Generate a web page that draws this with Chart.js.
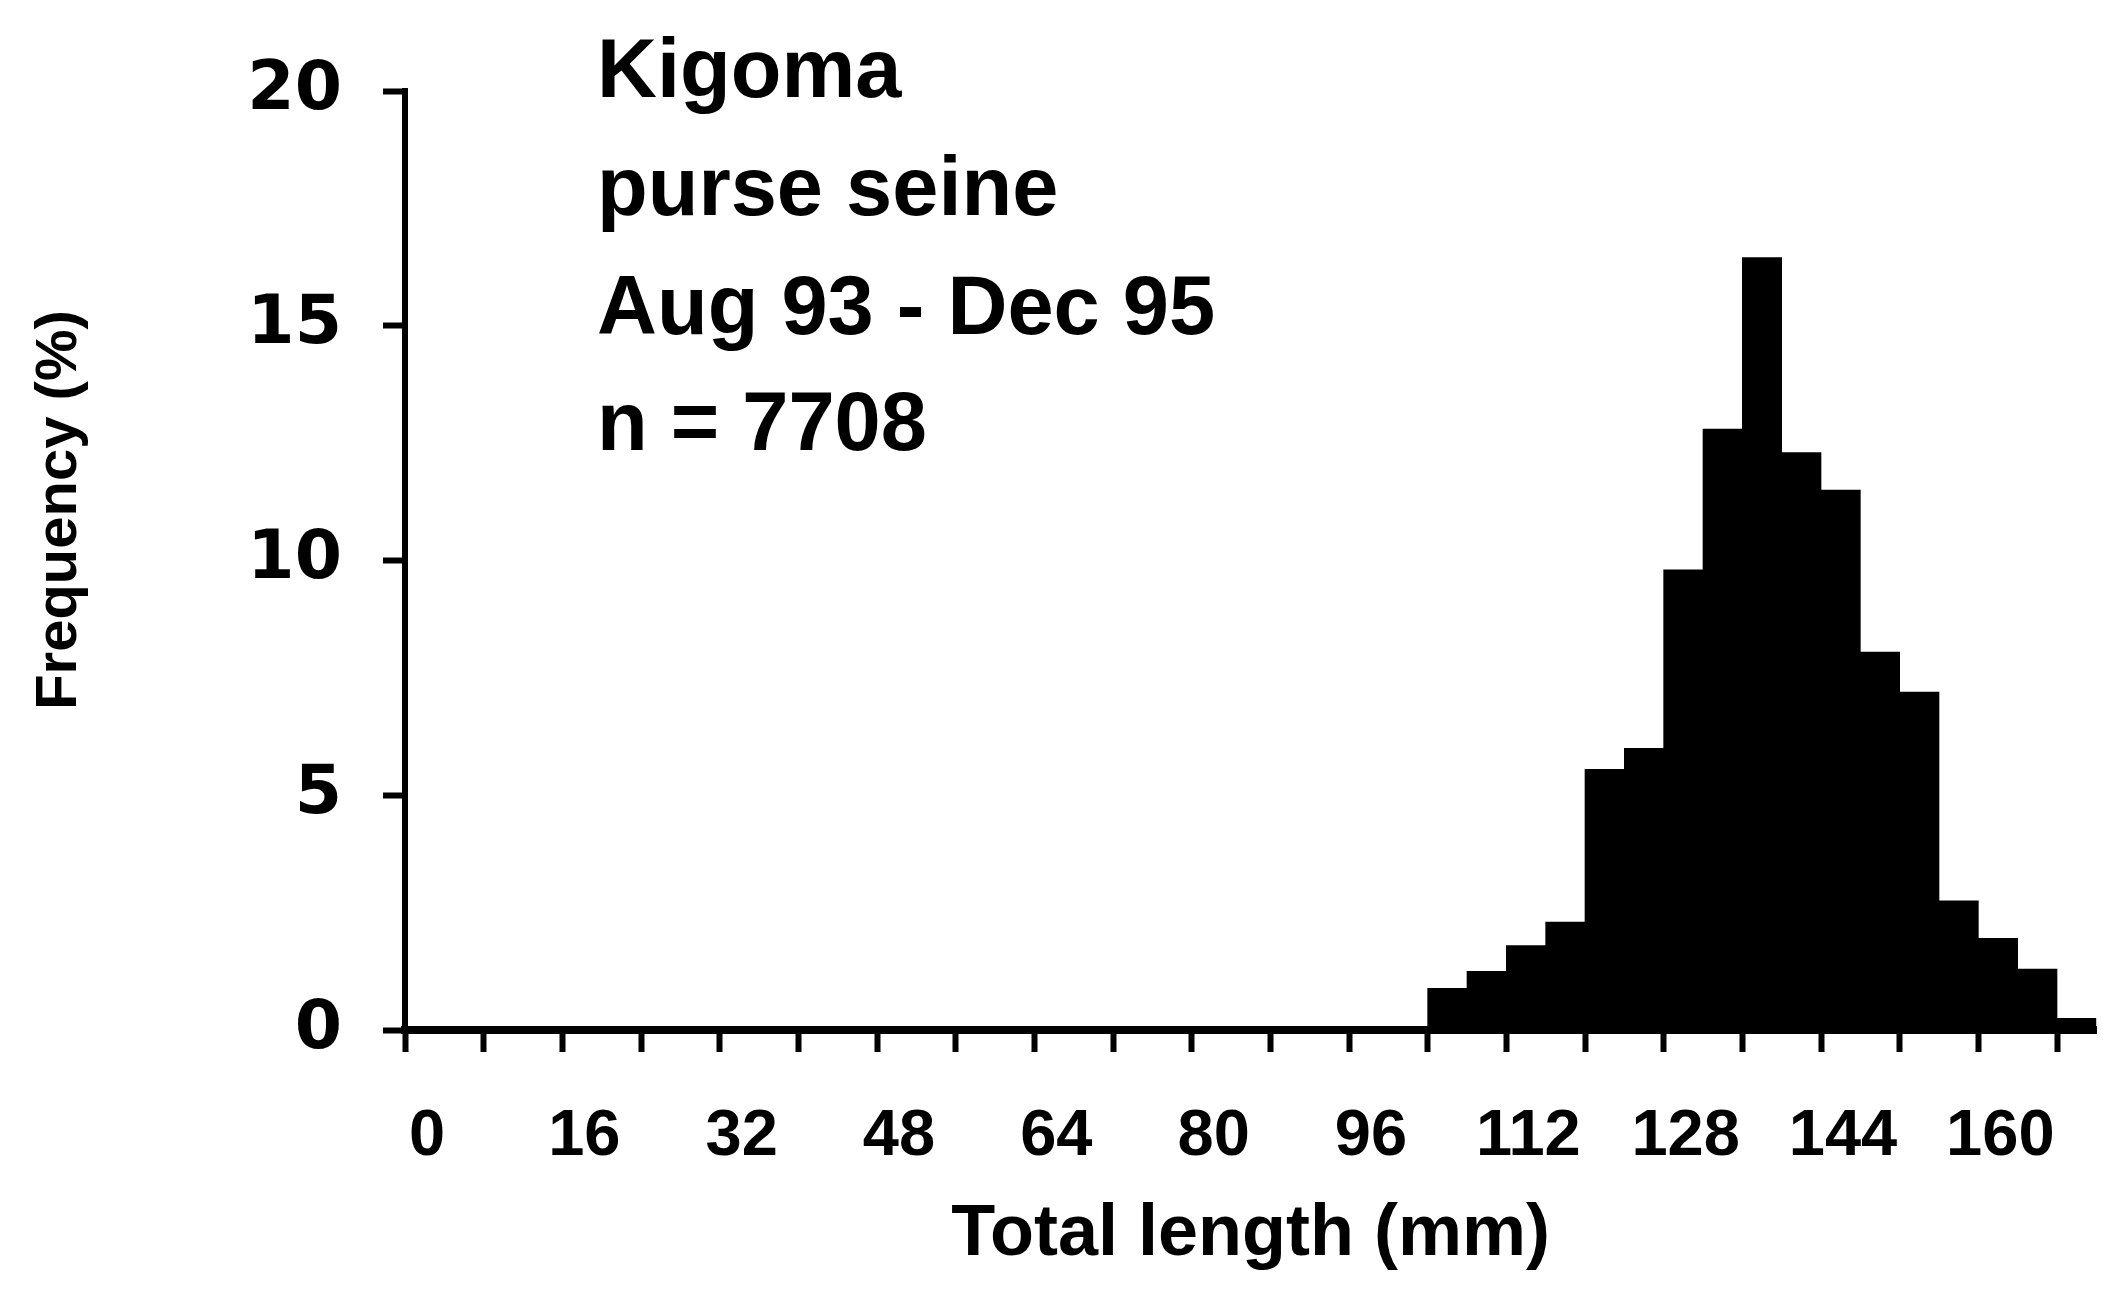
<!DOCTYPE html>
<html>
<head>
<meta charset="utf-8">
<script src="https://cdn.jsdelivr.net/npm/chart.js@4.4.1/dist/chart.umd.min.js"></script>
<style>
  html, body { margin: 0; padding: 0; background: #ffffff; }
  #wrap { width: 2103px; height: 1294px; }
</style>
</head>
<body>
<div id="wrap"><canvas id="c" width="2103" height="1294"></canvas></div>
<script>
// ---- Data ----
const binWidth = 4; // mm
const binStarts = [0,4,8,12,16,20,24,28,32,36,40,44,48,52,56,60,64,68,72,76,80,84,88,92,96,100,
                   104,108,112,116,120,124,128,132,136,140,144,148,152,156,160,164,168];
const frequency = [0,0,0,0,0,0,0,0,0,0,0,0,0,0,0,0,0,0,0,0,0,0,0,0,0,0,
                   0.89,1.25,1.8,2.3,5.55,6.0,9.8,12.8,16.45,12.3,11.5,8.05,7.2,2.75,1.95,1.3,0.25];
const xTickValues = [0,8,16,24,32,40,48,56,64,72,80,88,96,104,112,120,128,136,144,152,160,168];
const xTickLabels = ['0','','16','','32','','48','','64','','80','','96','','112','','128','','144','','160',''];
const yTickValues = [0,5,10,15,20];
const annotationLines = ['Kigoma', 'purse seine', 'Aug 93 - Dec 95', 'n = 7708'];
const xTitle = 'Total length (mm)';
const yTitle = 'Frequency (%)';

const barData = binStarts.map((s, i) => ({ x: s + binWidth / 2, y: frequency[i] }));

const textPlugin = {
  id: 'textPlugin',
  afterDraw(chart) {
    const ctx = chart.ctx;
    ctx.save();
    ctx.fillStyle = '#000';
    ctx.font = 'bold 83px "Liberation Sans", Arial, sans-serif';
    ctx.textAlign = 'left';
    ctx.textBaseline = 'alphabetic';
    const baselines = [97, 215, 334, 450];
    annotationLines.forEach((t, i) => ctx.fillText(t, 597, baselines[i]));
    // y axis title
    ctx.font = 'bold 58px "Liberation Sans", Arial, sans-serif';
    ctx.translate(76, 510);
    ctx.rotate(-Math.PI / 2);
    ctx.textAlign = 'center';
    ctx.fillText(yTitle, 0, 0);
    ctx.restore();
  }
};

new Chart(document.getElementById('c'), {
  type: 'bar',
  data: {
    datasets: [{
      data: barData,
      backgroundColor: '#000',
      borderWidth: 0,
      barPercentage: 1.0,
      categoryPercentage: 1.0
    }]
  },
  options: {
    responsive: false,
    devicePixelRatio: 1,
    animation: false,
    layout: { padding: { top: 91, right: 0, bottom: 0, left: 0 } },
    plugins: { legend: { display: false }, tooltip: { enabled: false } },
    scales: {
      x: {
        type: 'linear',
        min: 0,
        max: 172,
        offset: false,
        afterFit(scale) { scale.height = 264; },
        afterBuildTicks(scale) { scale.ticks = xTickValues.map(v => ({ value: v })); },
        grid: { display: true, offset: false, drawOnChartArea: false, drawTicks: true,
                tickLength: 22, tickWidth: 6, tickColor: '#000', color: '#000' },
        border: { display: true, color: '#000', width: 8 },
        ticks: {
          autoSkip: false,
          maxRotation: 0,
          padding: 46,
          labelOffset: 22,
          color: '#000',
          font: { family: '"Liberation Sans", Arial, sans-serif', size: 65, weight: 'bold' },
          callback: (v) => { const i = xTickValues.indexOf(v); return i >= 0 ? xTickLabels[i] : ''; }
        },
        title: {
          display: true,
          text: xTitle,
          color: '#000',
          font: { family: '"Liberation Sans", Arial, sans-serif', size: 72, weight: 'bold' },
          padding: { top: 0, bottom: 16 }
        }
      },
      y: {
        min: 0,
        max: 20,
        afterFit(scale) { scale.width = 405; },
        afterBuildTicks(scale) { scale.ticks = yTickValues.map(v => ({ value: v })); },
        grid: { display: true, drawOnChartArea: false, drawTicks: true,
                tickLength: 22, tickWidth: 6, tickColor: '#000', color: '#000' },
        border: { display: true, color: '#000', width: 6 },
        ticks: {
          padding: 41,
          color: '#000',
          font: { family: '"DejaVu Sans", sans-serif', size: 68, weight: 'bold' }
        }
      }
    }
  },
  plugins: [textPlugin]
});
</script>
</body>
</html>
